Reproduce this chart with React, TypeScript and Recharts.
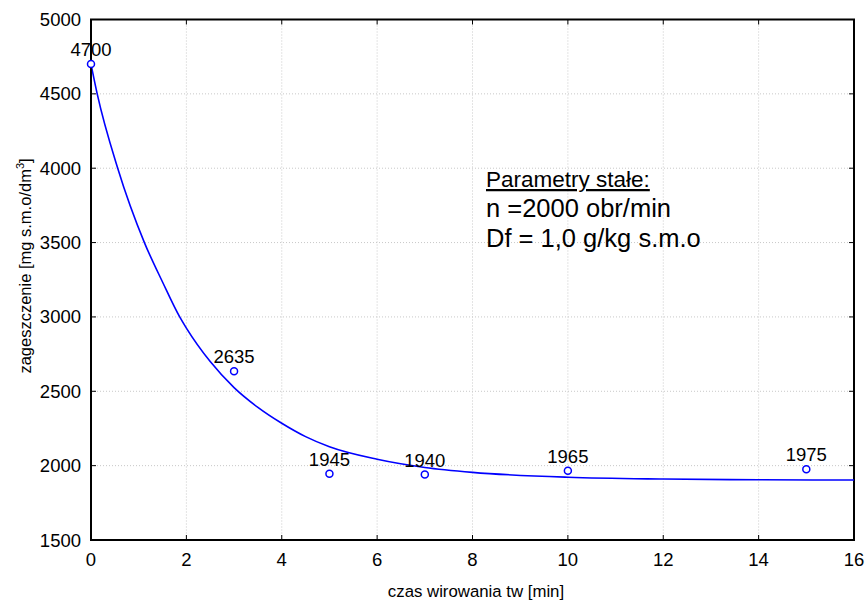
import React from "react";
import {
  ComposedChart,
  Line,
  Scatter,
  XAxis,
  YAxis,
  CartesianGrid,
  ReferenceArea,
} from "recharts";

// measured points
const timeMin = [0, 3, 5, 7, 10, 15];
const concentration = [4700, 2635, 1945, 1940, 1965, 1975];

// fitted curve
const fitTime = [0, 0.13, 0.56, 1.12, 1.5, 1.86, 2, 2.5, 3, 3.5, 4, 4.5, 5, 6, 7, 8, 10, 12, 14, 16];
const fitValue = [4700, 4500, 4000, 3500, 3235, 3000, 2925, 2700, 2525, 2392, 2285, 2195, 2127, 2043, 1988, 1955, 1922, 1910, 1905, 1903];

const xTicks = [0, 2, 4, 6, 8, 10, 12, 14, 16];
const yTicks = [1500, 2000, 2500, 3000, 3500, 4000, 4500, 5000];

const xLabel = "czas wirowania tw [min]";
const yLabel = "zageszczenie [mg s.m.o/dm";
const noteLines = ["Parametry stałe:", "n =2000 obr/min", "Df = 1,0 g/kg s.m.o"];

const pointData = timeMin.map((t, i) => ({ t, v: concentration[i] }));
const fitData = fitTime.map((t, i) => ({ t, v: fitValue[i] }));

const W = 867;
const H = 601;
const PLOT_LEFT = 91;
const PLOT_RIGHT = 854;
const PLOT_TOP = 19.5;
const PLOT_BOTTOM = 540;
const FONT = "'Liberation Sans', Arial, sans-serif";
const BLUE = "#0000ff";
const TICK_FS = 18.5;

const YTick = (props: any) => {
  const { y, payload } = props;
  return (
    <g>
      <text x={81} y={y} textAnchor="end" dominantBaseline="central" fontSize={TICK_FS} fontFamily={FONT} fill="#000">
        {payload.value}
      </text>
      <line x1={PLOT_LEFT} x2={PLOT_LEFT + 5} y1={y} y2={y} stroke="#000" strokeWidth={1} />
      <line x1={PLOT_RIGHT - 5} x2={PLOT_RIGHT} y1={y} y2={y} stroke="#000" strokeWidth={1} />
    </g>
  );
};

const XTick = (props: any) => {
  const { x, payload } = props;
  return (
    <g>
      <text x={x} y={566} textAnchor="middle" fontSize={TICK_FS} fontFamily={FONT} fill="#000">
        {payload.value}
      </text>
      <line x1={x} x2={x} y1={PLOT_BOTTOM} y2={PLOT_BOTTOM - 5} stroke="#000" strokeWidth={1} />
      <line x1={x} x2={x} y1={PLOT_TOP} y2={PLOT_TOP + 5} stroke="#000" strokeWidth={1} />
    </g>
  );
};

const PointShape = (props: any) => {
  const { cx, cy, payload } = props;
  return (
    <g>
      <circle cx={cx} cy={cy} r={3.5} fill="#fff" stroke={BLUE} strokeWidth={1.5} />
      <text x={cx} y={cy - 8} textAnchor="middle" fontSize={TICK_FS} fontFamily={FONT} fill="#000">
        {payload.v}
      </text>
    </g>
  );
};

export default function App() {
  return (
    <div style={{ position: "absolute", left: 0, top: 0, width: W, height: H, background: "#fff" }}>
      <ComposedChart
        width={W}
        height={H}
        margin={{ top: PLOT_TOP, right: W - PLOT_RIGHT, bottom: 0, left: 0 }}
      >
        <CartesianGrid stroke="#c8c8c8" strokeDasharray="1 2" />
        <XAxis
          dataKey="t"
          type="number"
          domain={[0, 16]}
          ticks={xTicks}
          height={H - PLOT_BOTTOM}
          tick={<XTick />}
          tickLine={false}
          axisLine={{ stroke: "#000", strokeWidth: 2 }}
        />
        <YAxis
          dataKey="v"
          type="number"
          domain={[1500, 5000]}
          ticks={yTicks}
          width={PLOT_LEFT}
          tick={<YTick />}
          tickLine={false}
          axisLine={{ stroke: "#000", strokeWidth: 2 }}
        />
        <ReferenceArea x1={0} x2={16} y1={1500} y2={5000} fill="none" fillOpacity={0} stroke="#000" strokeWidth={2} />
        <Line
          data={fitData}
          dataKey="v"
          type="monotone"
          stroke={BLUE}
          strokeWidth={1.6}
          dot={false}
          activeDot={false}
          isAnimationActive={false}
        />
        <Scatter data={pointData} dataKey="v" shape={<PointShape />} isAnimationActive={false} />
      </ComposedChart>
      <svg width={W} height={H} style={{ position: "absolute", left: 0, top: 0, pointerEvents: "none" }}>
        <text x={476} y={597} textAnchor="middle" fontSize={16.8} fontFamily={FONT} fill="#000">
          {xLabel}
        </text>
        <text
          x={0}
          y={0}
          transform="translate(31,266) rotate(-90)"
          textAnchor="middle"
          fontSize={16.5}
          fontFamily={FONT}
          fill="#000"
        >
          {yLabel}
          <tspan fontSize={11} dy={-7}>3</tspan>
          <tspan dy={7}>]</tspan>
        </text>
        <text x={486} y={187} fontSize={22.5} fontFamily={FONT} fill="#000" textDecoration="underline">
          {noteLines[0]}
        </text>
        <text x={486} y={217} fontSize={25.5} fontFamily={FONT} fill="#000">
          {noteLines[1]}
        </text>
        <text x={486} y={247} fontSize={25.5} fontFamily={FONT} fill="#000">
          {noteLines[2]}
        </text>
      </svg>
    </div>
  );
}
